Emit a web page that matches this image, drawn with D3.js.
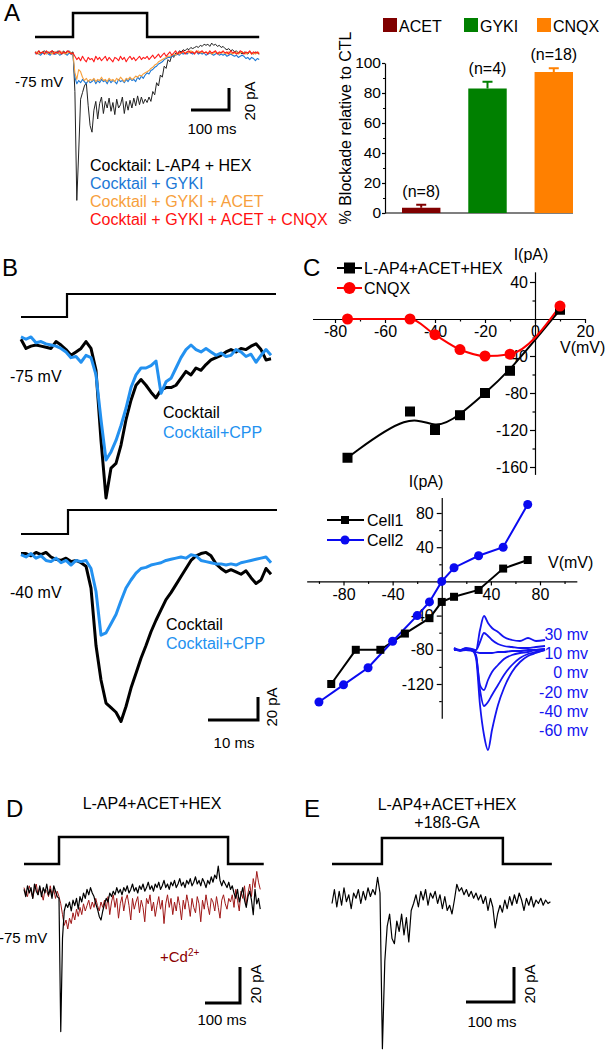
<!DOCTYPE html>
<html><head><meta charset="utf-8">
<script src="https://cdn.jsdelivr.net/npm/d3@7"></script>
<style>
body{margin:0;background:#fff;}
svg{display:block;}
</style></head><body>
<svg id="fig" width="605" height="1050"></svg>
<script>
// ================= DATA =================
// Panel A traces (pA), sampled every 5 ms from 0 to 590 ms
const dtA = 5;
const stimTimesA = [0, 100, 100, 295, 295, 590];
const stimLevels = [0, 0, 1, 1, 0, 0];
const traceA_black = [
1,0,2,-1,1,2,0,1,-1,2, 1,0,2,1,-1,2,0,1,2,0,
1,-35,-134,-90,-42,-36,-30,-27,-48,-66,
-72,-52,-44,-60,-46,-40,-55,-44,-50,-41,
-53,-45,-56,-42,-50,-47,-40,-55,-44,-52,
-43,-50,-41,-48,-39,-47,-40,-46,-42,-45,
-40,-44,-35,-38,-27,-30,-20,-22,-12,-14,
-6,-8,-2,-4,0,-1,2,1,3,2,
4,3,5,4,5,6,5,7,6,8,
7,8,6,9,7,8,6,7,5,6,
4,3,4,2,3,1,2,0,1,-1,
1,0,-1,1,0,-1,1,0,-1];
const traceA_gyki = [
-1,0,-1,-2,0,-1,1,-1,-2,0, -1,-1,0,-2,-1,0,-1,-2,0,-1,
-2,-22,-28,-25,-27,-24,-26,-28,-25,-27,
-26,-24,-28,-25,-27,-24,-26,-25,-28,-24,
-27,-25,-26,-28,-24,-26,-25,-27,-24,-26,
-23,-25,-24,-26,-22,-24,-21,-23,-20,-18,
-19,-16,-15,-13,-12,-10,-9,-8,-6,-5,
-4,-4,-3,-2,-2,-1,-2,0,-1,0,
-1,1,0,-1,0,1,-1,0,-1,0,
-2,-1,0,-1,-2,-1,0,-2,-1,-2,
-1,-3,-2,-1,-2,-3,-2,-4,-3,-2,
-3,-5,-4,-6,-4,-5,-7,-5,-6];
const traceA_acet = [
0,1,-1,0,1,0,-1,1,0,-1, 1,0,0,-1,1,0,-1,0,1,0,
-1,-18,-24,-15,-17,-22,-25,-23,-26,-24,
-25,-23,-26,-24,-25,-22,-25,-24,-26,-23,
-25,-24,-26,-23,-25,-22,-24,-26,-23,-24,
-22,-24,-23,-21,-22,-20,-21,-19,-18,-17,
-16,-14,-13,-11,-10,-8,-7,-6,-5,-4,
-3,-3,-2,-1,-2,0,-1,0,1,0,
1,0,2,1,0,1,2,0,1,0,
1,0,1,-1,0,1,0,-1,1,0,
0,-1,1,0,-1,0,1,-1,0,1,
0,-1,0,1,-1,0,-1,0,1];
const traceA_cnqx = [
1,-1,2,0,1,-1,2,0,1,2, -1,1,0,2,-1,1,0,2,1,-1,
0,-3,-6,-4,-7,-3,-6,-8,-4,-6,
-5,-8,-3,-6,-4,-7,-5,-3,-7,-4,
-6,-8,-4,-5,-7,-3,-6,-4,-8,-5,
-3,-6,-4,-7,-5,-3,-6,-4,-5,-3,
-6,-4,-2,-5,-3,-1,-4,-2,0,-3,
-1,1,-2,0,2,-1,1,0,2,-1,
1,2,0,1,-1,2,0,1,2,0,
1,-1,2,0,1,2,-1,1,0,2,
0,1,-1,2,0,1,-1,0,2,1,
-1,1,0,2,-1,1,0,1,-1];
const legendA = ["Cocktail: L-AP4 + HEX", "Cocktail + GYKI", "Cocktail + GYKI + ACET", "Cocktail + GYKI + ACET + CNQX"];

// Panel A bar chart
const barCats = ["ACET", "GYKI", "CNQX"];
const barVals = [3.5, 83, 94];
const barErr = [2, 4.5, 2.5];
const barN = ["(n=8)", "(n=4)", "(n=18)"];
const barTicks = [0, 20, 40, 60, 80, 100];

// Panel B traces (pA), sampled every 1 ms from 0 to 50 ms
const dtB = 1;
const stimTimesB = [0, 9.2, 9.2, 51];
const stimLevelsB = [0, 0, 1, 1];
const traceB75_ctl = [5,-3,-1,0,-1,-2,-3,3,0,-4, -9,-6,-3,3,-3,-22,-83,-133,-107,-103,
 -87,-65,-48,-35,-30,-35,-41,-46,-39,-37, -37,-35,-29,-23,-26,-20,-22,-17,-13,-11,
 -9,-6,-4,-6,-3,-4,-1,1,-4,-13, -12];
const traceB75_cpp = [7,5,7,2,3,1,0,-1,-3,-6, -11,-10,-15,-9,-11,-26,-65,-100,-93,-83,
 -70,-55,-37,-26,-20,-20,-18,-14,-42,-32, -29,-20,-11,-4,0,-4,-6,-3,-6,-9,
 -7,-10,-9,-4,-6,-10,-8,-15,-9,-4, -9];
const traceB40_ctl = [3,3,1,4,2,4,0,-2,-3,-1, -4,-3,-5,-8,-27,-77,-107,-127,-131,-135,
 -143,-130,-114,-101,-88,-77,-65,-55,-46,-37, -31,-24,-17,-10,-3,1,3,4,1,-6,
 -10,-13,-11,-13,-15,-12,-18,-23,-20,-10, -15];
const traceB40_cpp = [2,0,3,-1,1,-3,-4,-1,-5,-3, -7,-3,-4,-3,-10,-30,-68,-66,-58,-50,
 -38,-27,-20,-14,-10,-9,-7,-6,-5,-3, -2,-1,0,-1,2,1,-3,-4,-5,-6,
 -6,-7,-6,-7,-5,-4,-3,-2,-1,0, -5];

// Panel C (upper) I-V
const ivV = [-75, -50, -40, -30, -20, -10, 10];
const ivCocktail = [-150, -100, -120, -104, -80, -56, 10];
const ivCNQX = [0, 0, -17, -33, -40, -38, 14];
// Panel C (lower) I-V
const cell1V = [-90, -70, -50, -30, -10, 0, 10, 30, 50, 70];
const cell1I = [-120, -80, -80, -61, -43, -24, -18, -10, 15, 25];
const cell2V = [-100, -80, -60, -40, -20, -10, 0, 10, 30, 50, 70];
const cell2I = [-141, -121, -101, -70, -40, -24, 0, 16, 30, 40, 90];
// Inset traces (arbitrary units, pA-like)
const instT = [0, 6, 12, 18, 22, 26, 30, 34, 38, 44, 50, 58, 66, 74, 82, 91];
const inset = [
  [2, 0, 2, 1, 0, 20, 34, 27, 22, 18, 13, 10, 9, 12, 9, 10],
  [2, 0, 1, 0, 0, 8, 17, 14, 10, 6, 4, 3, 2, 2, 3, 4],
  [1, -1, 0, -1, -2, -3, -3, -3, -3, -2, -2, -1, -1, 0, 0, 1],
  [1, 0, 1, 0, -5, -35, -40, -30, -22, -15, -9, -5, -3, -2, 0, 1],
  [1, 0, 1, 0, -6, -40, -56, -52, -45, -35, -25, -15, -8, -4, -2, 0],
  [0, 0, 1, 0, -8, -55, -85, -100, -80, -55, -38, -22, -12, -6, -3, 0]];
const insetLabels = ["30 mv", "10 mv", "0 mv", "-20 mv", "-40 mv", "-60 mv"];

// Panel D traces (pA), every 5 ms, 0-675 ms
const dtD = 5;
const stimTimesD = [0, 100, 100, 583, 583, 685];
const traceD_ctl = [
2,-2,4,0,3,-3,5,1,-1,4,
-2,3,0,5,-1,2,-3,4,1,-2,
-3,-77,-25,-10,-6,-8,-5,-10,-4,-7,
-3,-9,-2,-5,0,-3,2,-1,3,0,
-2,-6,-9,-13,-15,-10,-6,-3,-5,0,
-2,1,-1,3,0,2,-1,3,1,4,
0,2,5,1,3,0,4,2,5,1,
3,6,2,4,1,5,3,6,2,4,
7,3,5,2,6,4,7,3,5,8,
4,6,3,7,5,8,4,6,9,5,
7,4,8,6,3,7,5,9,6,10,
8,15,7,4,7,5,3,6,2,4,
0,-3,2,-5,-1,3,-4,-8,-2,1,
-4,-12,2,-6,-3,-9];
const traceD_cd = [
3,0,-2,4,1,-3,2,5,-1,3,
0,-4,2,1,-2,4,-1,2,-3,1,
-2,-6,-12,-18,-15,-20,-14,-17,-11,-15,
-9,-13,-8,-12,-6,-10,-7,-4,-9,-5,
-8,-3,-7,-10,-5,-8,-4,-9,-2,-12,
-5,-1,-8,-3,-14,-6,-2,-10,-4,-1,
-7,-15,-3,-9,-5,-2,-11,-4,-8,-16,
-3,-6,-1,-10,-5,-13,-7,-2,-9,-4,
-17,-6,-1,-8,-3,-12,-5,-10,-2,-7,
-15,-4,-9,-1,-6,-13,-3,-8,-11,-2,
-6,-16,-4,-9,-1,-7,-12,-3,-5,-10,
-2,-8,-14,-4,-1,-6,-9,-3,-5,-1,
-8,2,-4,-10,1,-3,4,-6,0,5,
-2,8,3,12,6,2];

// Panel E trace (pA), every 5 ms, 0-455 ms
const dtE = 5;
const stimTimesE = [0, 104, 104, 356, 356, 458];
const traceE = [
-2,6,-4,5,-3,7,-1,3,-5,4,
1,6,-2,5,0,7,2,6,3,13,
4,-85,-35,-15,-8,-22,-25,-12,-18,-8,
-20,-10,-24,-6,-2,3,-4,5,0,6,
-3,4,1,5,-2,3,-5,2,-6,-3,
-8,0,9,5,7,3,6,2,5,1,
4,0,3,-2,2,-6,1,-4,-16,-8,
-3,-7,0,-5,2,-3,3,-2,4,0,
-6,1,-3,2,-4,0,-2,1,-3,0,
-2,-1];

// ================= DRAWING =================
const FONT = '"Liberation Sans", Arial, Helvetica, sans-serif';
const svg = d3.select('#fig').attr('font-family', FONT);
svg.append('rect').attr('width', 605).attr('height', 1050).attr('fill', '#fff');

function text(x, y, s, o = {}) {
  const t = svg.append('text').attr('x', x).attr('y', y).text(s)
    .attr('font-size', o.size || 16).attr('fill', o.color || '#000')
    .attr('text-anchor', o.anchor || 'start');
  if (o.rotate) t.attr('transform', `rotate(${o.rotate},${x},${y})`);
  return t;
}
function trace(dt, vals, x, y, color, w, op) {
  svg.append('path').datum(vals)
    .attr('d', d3.line().x((d, i) => x(i * dt)).y(d => y(d)))
    .attr('fill', 'none').attr('stroke', color).attr('stroke-width', w)
    .attr('stroke-linejoin', 'round').attr('opacity', op || 1);
}
function step(times, levels, x, yLo, yHi, w) {
  const ys = d3.scaleLinear().domain([0, 1]).range([yLo, yHi]);
  svg.append('path').datum(times.map((t, i) => [t, levels[i]]))
    .attr('d', d3.line().x(d => x(d[0])).y(d => ys(d[1])))
    .attr('fill', 'none').attr('stroke', '#000').attr('stroke-width', w || 2.5);
}
function scalebar(xr, yb, x, y, dt, dv, w) {
  const L = x(dt) - x(0), H = y(0) - y(dv);
  svg.append('path').attr('d', `M${xr - L},${yb}H${xr}V${yb - H}`)
    .attr('fill', 'none').attr('stroke', '#000').attr('stroke-width', w || 3)
    .attr('stroke-linejoin', 'miter');
}
function styleAxis(g, size) {
  g.attr('font-family', FONT).attr('font-size', size || 16);
  g.selectAll('line').attr('stroke', '#000').attr('stroke-width', 1.2);
  g.selectAll('path').attr('stroke', '#000').attr('stroke-width', 1.2);
  g.selectAll('text').attr('fill', '#000');
}

// Panel letters
text(4, 21, 'A', { size: 24 });
text(2, 276, 'B', { size: 24 });
text(303, 276, 'C', { size: 24 });
text(6, 817, 'D', { size: 24 });
text(304, 817, 'E', { size: 24 });

// ---------- Panel A traces ----------
const xA = d3.scaleLinear().domain([0, 590]).range([35, 259.2]);
const yA = d3.scaleLinear().domain([-140, 20]).range([207, 31]);
step(stimTimesA, stimLevels, xA, 37, 13);
trace(dtA, traceA_black, xA, yA, '#222', 1);
trace(dtA, traceA_gyki, xA, yA, '#1b78d6', 1.1);
trace(dtA, traceA_acet, xA, yA, '#f7a03c', 1.1);
trace(dtA, traceA_cnqx, xA, yA, '#ff1a1a', 1.1);
text(15, 87, '-75 mV', { size: 15 });
scalebar(229, 110, xA, yA, 100, 20);
text(212, 134, '100 ms', { size: 15, anchor: 'middle' });
text(255, 101, '20 pA', { size: 15, anchor: 'middle', rotate: -90 });
const legColors = ['#000', '#1b78d6', '#f7a03c', '#ff1010'];
legendA.forEach((s, i) => text(90, 170.5 + i * 18.3, s, { size: 16, color: legColors[i] }));

// ---------- Panel A bar chart ----------
const barColors = ['#800000', '#008000', '#ff8000'];
const yBar = d3.scaleLinear().domain([0, 100]).range([213, 63]);
const xBar = d3.scaleBand().domain(barCats).range([402, 573]).paddingInner(0.42).paddingOuter(0);
const gBarY = svg.append('g').attr('transform', 'translate(385,0)')
  .call(d3.axisLeft(yBar).tickValues(barTicks).tickSize(3).tickPadding(1).tickSizeOuter(0).tickFormat(d => String(d)));
styleAxis(gBarY, 15.5);
const gBarYm = svg.append('g').attr('transform', 'translate(385,0)')
  .call(d3.axisLeft(yBar).tickValues([10, 30, 50, 70, 90]).tickSize(2).tickFormat(''));
styleAxis(gBarYm); gBarYm.select('.domain').remove();
svg.append('line').attr('x1', 385).attr('x2', 573).attr('y1', yBar(0)).attr('y2', yBar(0))
  .attr('stroke', '#000').attr('stroke-width', 1.2);
barCats.forEach((c, i) => {
  const x0 = xBar(c), bw = xBar.bandwidth(), cx = x0 + bw / 2;
  svg.append('rect').attr('x', x0).attr('y', yBar(barVals[i])).attr('width', bw)
    .attr('height', yBar(0) - yBar(barVals[i])).attr('fill', barColors[i]);
  const yt = yBar(barVals[i] + barErr[i]);
  svg.append('path').attr('d', `M${cx},${yBar(barVals[i])}V${yt}M${cx - 5},${yt}H${cx + 5}`)
    .attr('stroke', barColors[i]).attr('stroke-width', 2).attr('fill', 'none');
  text(cx, yt - 8, barN[i], { size: 16, anchor: 'middle' });
});
const legX = [383, 464, 537];
barCats.forEach((c, i) => {
  svg.append('rect').attr('x', legX[i]).attr('y', 18).attr('width', 14).attr('height', 14).attr('fill', barColors[i]);
  text(legX[i] + 16, 32, c, { size: 16 });
});
text(351, 128, '% Blockade relative to CTL', { size: 16, anchor: 'middle', rotate: -90 });

// ---------- Panel B ----------
const xB = d3.scaleLinear().domain([0, 50]).range([21, 271]);
const yBt = d3.scaleLinear().domain([-140, 20]).range([345 + 140 * 1.15, 345 - 20 * 1.15]);
const yBb = d3.scaleLinear().domain([-140, 20]).range([557 + 140 * 1.15, 557 - 20 * 1.15]);
step(stimTimesB, stimLevelsB, xB, 317, 294, 2.2);
step([0, 9.4, 9.4, 51.2], stimLevelsB, xB, 534, 510, 2.2);
trace(dtB, traceB75_ctl, xB, yBt, '#000', 3);
trace(dtB, traceB75_cpp, xB, yBt, '#2391f0', 3);
trace(dtB, traceB40_ctl, xB, yBb, '#000', 3);
trace(dtB, traceB40_cpp, xB, yBb, '#2391f0', 3);
text(10, 381.5, '-75 mV');
text(10, 597.5, '-40 mV');
text(163, 418, 'Cocktail');
text(163, 438, 'Cocktail+CPP', { color: '#2391f0' });
text(166, 630, 'Cocktail');
text(166, 649, 'Cocktail+CPP', { color: '#2391f0' });
scalebar(258, 720, xB, yBb, 10, 20);
text(234, 748, '10 ms', { size: 15, anchor: 'middle' });
text(277, 707, '20 pA', { size: 15, anchor: 'middle', rotate: -90 });

// ---------- Panel C upper ----------
const xC1 = d3.scaleLinear().domain([-89, 20]).range([312.5, 585]);
const yC1 = d3.scaleLinear().domain([-168, 51]).range([319 + 168 * 0.925, 319 - 51 * 0.925]);
const gC1x = svg.append('g').attr('transform', `translate(0,${yC1(0)})`)
  .call(d3.axisBottom(xC1).tickValues([-80, -60, -40, -20, 0, 20]).tickSize(4).tickPadding(3).tickSizeOuter(0).tickFormat(d => String(d)));
styleAxis(gC1x);
const gC1xm = svg.append('g').attr('transform', `translate(0,${yC1(0)})`)
  .call(d3.axisBottom(xC1).tickValues([-70, -50, -30, -10, 10]).tickSize(2.5).tickFormat(''));
styleAxis(gC1xm); gC1xm.select('.domain').remove();
const gC1y = svg.append('g').attr('transform', `translate(${xC1(0)},0)`)
  .call(d3.axisLeft(yC1).tickValues([40, -40, -80, -120, -160]).tickSize(5).tickPadding(2).tickSizeOuter(0).tickFormat(d => String(d)));
styleAxis(gC1y);
const gC1ym = svg.append('g').attr('transform', `translate(${xC1(0)},0)`)
  .call(d3.axisLeft(yC1).tickValues([20, -20, -60, -100, -140]).tickSize(2.5).tickFormat(''));
styleAxis(gC1ym); gC1ym.select('.domain').remove();
text(531, 260, 'I(pA)', { anchor: 'middle' });
text(560, 353, 'V(mV)');
const ivPtsK = ivV.map((v, i) => [v, ivCocktail[i]]);
const ivPtsR = ivV.map((v, i) => [v, ivCNQX[i]]);
svg.append('path').datum(ivPtsK).attr('d', d3.line().curve(d3.curveBasis).x(d => xC1(d[0])).y(d => yC1(d[1])))
  .attr('fill', 'none').attr('stroke', '#000').attr('stroke-width', 2);
svg.append('path').datum(ivPtsR).attr('d', d3.line().curve(d3.curveMonotoneX).x(d => xC1(d[0])).y(d => yC1(d[1])))
  .attr('fill', 'none').attr('stroke', '#ff0000').attr('stroke-width', 2);
ivPtsK.forEach(d => svg.append('rect').attr('x', xC1(d[0]) - 5).attr('y', yC1(d[1]) - 5).attr('width', 10).attr('height', 10).attr('fill', '#000'));
ivPtsR.forEach(d => svg.append('circle').attr('cx', xC1(d[0])).attr('cy', yC1(d[1])).attr('r', 5.5).attr('fill', '#ff0000'));
// legend
svg.append('line').attr('x1', 337).attr('x2', 362).attr('y1', 268).attr('y2', 268).attr('stroke', '#000').attr('stroke-width', 2);
svg.append('rect').attr('x', 344).attr('y', 262.5).attr('width', 11).attr('height', 11).attr('fill', '#000');
text(364, 274, 'L-AP4+ACET+HEX');
svg.append('line').attr('x1', 337).attr('x2', 362).attr('y1', 288).attr('y2', 288).attr('stroke', '#ff0000').attr('stroke-width', 2);
svg.append('circle').attr('cx', 349.5).attr('cy', 288).attr('r', 6).attr('fill', '#ff0000');
text(364, 294, 'CNQX');

// ---------- Panel C lower ----------
const xC2 = d3.scaleLinear().domain([-110, 110]).range([441.75 - 110 * 1.228, 441.75 + 110 * 1.228]);
const yC2 = d3.scaleLinear().domain([-160, 98]).range([581.4 + 160 * 0.855, 581.4 - 98 * 0.855]);
const gC2x = svg.append('g').attr('transform', `translate(0,${yC2(0)})`)
  .call(d3.axisBottom(xC2).tickValues([-80, -40, 40, 80]).tickSize(4).tickPadding(3).tickSizeOuter(0).tickFormat(d => String(d)));
styleAxis(gC2x);
const gC2xm = svg.append('g').attr('transform', `translate(0,${yC2(0)})`)
  .call(d3.axisBottom(xC2).tickValues([-100, -60, -20, 20, 60, 100]).tickSize(2.5).tickFormat(''));
styleAxis(gC2xm); gC2xm.select('.domain').remove();
const gC2y = svg.append('g').attr('transform', `translate(${xC2(0)},0)`)
  .call(d3.axisLeft(yC2).tickValues([80, 40, -40, -80, -120]).tickSize(5).tickPadding(3).tickSizeOuter(0).tickFormat(d => String(d)));
styleAxis(gC2y);
const gC2ym = svg.append('g').attr('transform', `translate(${xC2(0)},0)`)
  .call(d3.axisLeft(yC2).tickValues([60, 20, -20, -60, -100, -140]).tickSize(2.5).tickFormat(''));
styleAxis(gC2ym); gC2ym.select('.domain').remove();
text(426, 487, 'I(pA)', { anchor: 'middle' });
text(548, 568, 'V(mV)');
const c1 = cell1V.map((v, i) => [v, cell1I[i]]);
const c2 = cell2V.map((v, i) => [v, cell2I[i]]);
svg.append('path').datum(c1).attr('d', d3.line().x(d => xC2(d[0])).y(d => yC2(d[1])))
  .attr('fill', 'none').attr('stroke', '#000').attr('stroke-width', 2);
svg.append('path').datum(c2).attr('d', d3.line().x(d => xC2(d[0])).y(d => yC2(d[1])))
  .attr('fill', 'none').attr('stroke', '#0a0af0').attr('stroke-width', 2);
c1.forEach(d => svg.append('rect').attr('x', xC2(d[0]) - 4).attr('y', yC2(d[1]) - 4).attr('width', 8).attr('height', 8).attr('fill', '#000'));
c2.forEach(d => svg.append('circle').attr('cx', xC2(d[0])).attr('cy', yC2(d[1])).attr('r', 4.5).attr('fill', '#0a0af0'));
svg.append('line').attr('x1', 327).attr('x2', 364).attr('y1', 520).attr('y2', 520).attr('stroke', '#000').attr('stroke-width', 2);
svg.append('rect').attr('x', 341).attr('y', 516).attr('width', 8).attr('height', 8).attr('fill', '#000');
text(367, 525.5, 'Cell1');
svg.append('line').attr('x1', 327).attr('x2', 364).attr('y1', 540).attr('y2', 540).attr('stroke', '#0a0af0').attr('stroke-width', 2);
svg.append('circle').attr('cx', 345).attr('cy', 540).attr('r', 4.5).attr('fill', '#0a0af0');
text(367, 545.5, 'Cell2');
// inset
const xIn = d3.scaleLinear().domain([0, 91]).range([454, 545]);
const yIn = d3.scaleLinear().domain([-100, 35]).range([750, 615]);
inset.forEach(vals => {
  svg.append('path').datum(vals).attr('d', d3.line().curve(d3.curveMonotoneX).x((d, i) => xIn(instT[i])).y(d => yIn(d)))
    .attr('fill', 'none').attr('stroke', '#1414f0').attr('stroke-width', 1.8);
});
insetLabels.forEach((s, i) => text(588, 640 + i * 19.2, s, { anchor: 'end', color: '#1414f0' }));

// ---------- Panel D ----------
const xD = d3.scaleLinear().domain([0, 675]).range([24, 24 + 675 * 0.35]);
const yD = d3.scaleLinear().domain([-80, 20]).range([893 + 80 * 1.8, 893 - 20 * 1.8]);
text(152, 809, 'L-AP4+ACET+HEX', { anchor: 'middle' });
step(stimTimesD, stimLevels, xD, 864, 837);
trace(dtD, traceD_cd, xD, yD, '#a01818', 1);
trace(dtD, traceD_ctl, xD, yD, '#000', 1.2);
text(-1, 943, '-75 mV', { size: 15 });
const cd = text(160, 962, '+Cd', { size: 15, color: '#8b0000' });
cd.append('tspan').attr('font-size', 10).attr('dy', -6).text('2+');
scalebar(240, 1003, xD, yD, 100, 20);
text(222, 1025, '100 ms', { size: 15, anchor: 'middle' });
text(261, 984, '20 pA', { size: 15, anchor: 'middle', rotate: -90 });

// ---------- Panel E ----------
const xE = d3.scaleLinear().domain([0, 455]).range([332, 332 + 455 * 0.48]);
const yE = d3.scaleLinear().domain([-90, 20]).range([900 + 90 * 1.75, 900 - 20 * 1.75]);
text(447, 810, 'L-AP4+ACET+HEX', { anchor: 'middle' });
text(447, 828, '+18ß-GA', { anchor: 'middle' });
step(stimTimesE, stimLevels, xE, 864, 838);
trace(dtE, traceE, xE, yE, '#000', 1.2);
scalebar(514, 1002, xE, yE, 100, 20);
text(492, 1027, '100 ms', { size: 15, anchor: 'middle' });
text(535, 984, '20 pA', { size: 15, anchor: 'middle', rotate: -90 });
</script>
</body></html>
